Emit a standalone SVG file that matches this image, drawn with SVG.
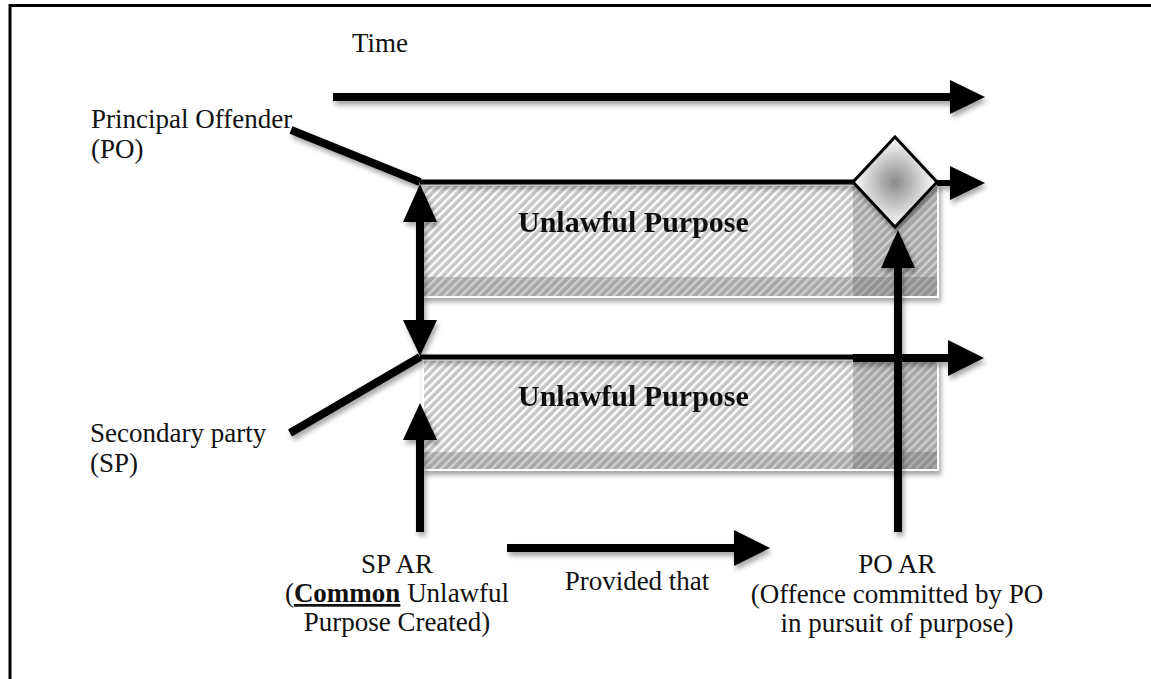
<svg xmlns="http://www.w3.org/2000/svg" width="1151" height="679" viewBox="0 0 1151 679">
  <style>
    text { font-family: "Liberation Serif", "Times New Roman", serif; font-size: 27px; fill: #111; }
    .title { font-weight: bold; font-size: 30px; }
    .ln { stroke: #000; fill: none; stroke-linecap: butt; }
    .head { fill: #000; }
    .band { fill: #555; opacity: 0.28; }
  </style>
  <defs>
    <pattern id="hatch" patternUnits="userSpaceOnUse" width="6" height="6" patternTransform="rotate(-45)">
      <rect width="6" height="6" fill="#c6c6c6"/>
      <rect width="6" height="2.4" fill="#ffffff"/>
    </pattern>
    <radialGradient id="dg" cx="0.5" cy="0.5" r="0.5">
      <stop offset="0" stop-color="#8a8a8a"/>
      <stop offset="1" stop-color="#ffffff"/>
    </radialGradient>
    <filter id="sh" x="-10%" y="-10%" width="130%" height="140%">
      <feDropShadow dx="2" dy="4" stdDeviation="2.5" flood-color="#000" flood-opacity="0.35"/>
    </filter>
  </defs>

  <rect x="10" y="5.5" width="1200" height="720" fill="none" stroke="#000" stroke-width="3"/>

  <g id="time-label"><text x="352" y="52">Time</text></g>
  <g id="po-label"><text x="91" y="128">Principal Offender</text><text x="91" y="158">(PO)</text></g>
  <g id="sp-label"><text x="90" y="442">Secondary party</text><text x="90" y="472">(SP)</text></g>

  <g id="purpose-po" filter="url(#sh)">
    <rect x="423" y="185" width="515" height="112" fill="url(#hatch)" stroke="#fff" stroke-width="2"/>
    <rect class="band" x="853" y="186" width="84" height="110"/>
    <rect class="band" x="424" y="277" width="513" height="19"/>
    <text class="title" x="518" y="232">Unlawful Purpose</text>
  </g>
  <g id="purpose-sp" filter="url(#sh)">
    <rect x="423" y="360" width="515" height="110" fill="url(#hatch)" stroke="#fff" stroke-width="2"/>
    <rect class="band" x="853" y="361" width="84" height="108"/>
    <rect class="band" x="424" y="452" width="513" height="17"/>
    <text class="title" x="518" y="406">Unlawful Purpose</text>
  </g>

  <g id="connectors" filter="url(#sh)">
    <line class="ln" x1="333" y1="97" x2="952" y2="97" stroke-width="8"/>
    <polygon class="head" points="950,80 985,97 950,114"/>
    <line class="ln" x1="291" y1="130" x2="420" y2="182" stroke-width="8"/>
    <line class="ln" x1="420" y1="182" x2="855" y2="182" stroke-width="5"/>
    <line class="ln" x1="937" y1="183" x2="952" y2="183" stroke-width="6"/>
    <polygon class="head" points="950,166 985,183 950,200"/>
    <line class="ln" x1="290" y1="433" x2="420" y2="357" stroke-width="8"/>
    <line class="ln" x1="420" y1="357" x2="855" y2="357" stroke-width="5"/>
    <line class="ln" x1="853" y1="358" x2="950" y2="358" stroke-width="8"/>
    <polygon class="head" points="948,340 984,358 948,376"/>
    <line class="ln" x1="420" y1="215" x2="420" y2="325" stroke-width="8"/>
    <polygon class="head" points="420,184 437,222 403,222"/>
    <polygon class="head" points="420,356 437,320 403,320"/>
    <line class="ln" x1="420" y1="532" x2="420" y2="432" stroke-width="8"/>
    <polygon class="head" points="420,403 437,440 403,440"/>
    <line class="ln" x1="898" y1="532" x2="898" y2="262" stroke-width="8"/>
    <polygon class="head" points="898,230 915,268 881,268"/>
    <line class="ln" x1="507" y1="548" x2="736" y2="548" stroke-width="8"/>
    <polygon class="head" points="734,530 770,548 734,566"/>
  </g>

  <g id="event-diamond" filter="url(#sh)">
    <polygon points="895,137 937,182 895,227 853,182" fill="url(#dg)" stroke="#000" stroke-width="3"/>
  </g>

  <g id="sp-ar" text-anchor="middle">
    <text x="397" y="573">SP AR</text>
    <text x="397" y="602">(<tspan font-weight="bold" text-decoration="underline">Common</tspan> Unlawful</text>
    <text x="397" y="631">Purpose Created)</text>
  </g>
  <g id="provided"><text x="637" y="590" text-anchor="middle">Provided that</text></g>
  <g id="po-ar" text-anchor="middle">
    <text x="897" y="573">PO AR</text>
    <text x="897" y="603">(Offence committed by PO</text>
    <text x="897" y="632">in pursuit of purpose)</text>
  </g>
</svg>
